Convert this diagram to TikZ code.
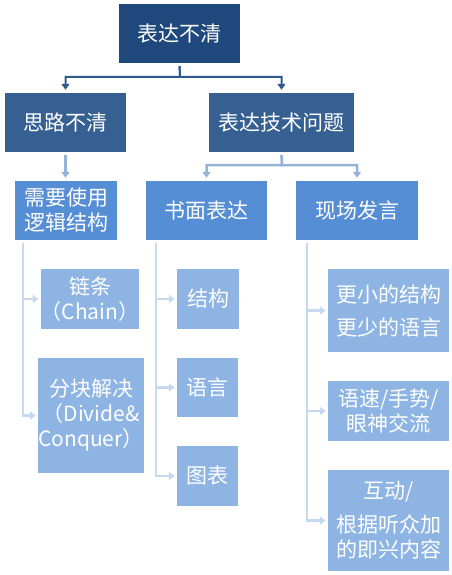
\documentclass[tikz,border=0pt]{standalone}
\usepackage{fontspec}
\setmainfont{Noto Sans CJK SC}
\usepackage{xcolor}
\usetikzlibrary{arrows.meta}

\definecolor{navy}{HTML}{1F497D}
\definecolor{steel}{HTML}{376092}
\definecolor{midblue}{HTML}{558ED5}
\definecolor{lightblue}{HTML}{8EB4E3}
\definecolor{linkdark}{HTML}{2F5A8E}
\definecolor{linkmid}{HTML}{95B3D7}
\definecolor{linklight}{HTML}{C6D9F1}

\begin{document}
\begin{tikzpicture}[x=1pt,y=-1pt,
    box/.style={rectangle,text=white,inner sep=0pt,align=center,
        font=\fontsize{21pt}{25pt}\selectfont},
    lvlone/.style={box,fill=navy},
    lvltwo/.style={box,fill=steel},
    lvlthree/.style={box,fill=midblue},
    lvlfour/.style={box,fill=lightblue},
    linkone/.style={draw=linkdark,line width=2pt,-{Triangle[width=8pt,length=6pt]},shorten <=3pt,shorten >=3pt},
    linktwo/.style={draw=linkmid,line width=2.5pt,-{Triangle[width=8pt,length=6pt]},shorten <=3pt,shorten >=3pt},
    linkbar/.style={draw=linklight,line width=2.5pt,-{Triangle[width=8pt,length=6pt]},shorten >=2pt}]

       \useasboundingbox (0,0) rectangle (451,575);

       % top and second level
       \node[lvlone,minimum width=121pt,minimum height=59pt] (top) at (179.5,33.5) {表达不清};
       \node[lvltwo,minimum width=121pt,minimum height=59pt] (sl) at (65.5,122.5) {思路不清};
       \node[lvltwo,minimum width=145pt,minimum height=59pt] (js) at (281.5,122.5) {表达技术问题};

       % third level
       \node[lvlthree,minimum width=102pt,minimum height=59pt] (lj) at (66,210.5) {需要使用\\逻辑结构};
       \node[lvlthree,minimum width=121pt,minimum height=59pt] (sm) at (206.5,210.5) {书面表达};
       \node[lvlthree,minimum width=122pt,minimum height=59pt] (xc) at (357,210.5) {现场发言};

       % fourth level
       \node[lvlfour,minimum width=98pt,minimum height=60pt] (chain) at (90,299) {链条\\（Chain）};
       \node[lvlfour,minimum width=100pt,minimum height=115pt] (fk) at (91,415.5) {分块解决\\（Divide\&\\Conquer）};

       \node[lvlfour,minimum width=62pt,minimum height=60pt] (jg) at (208,299) {结构};
       \node[lvlfour,minimum width=61pt,minimum height=59pt] (yy) at (207.5,387.5) {语言};
       \node[lvlfour,minimum width=61pt,minimum height=60pt] (tb) at (207.5,476) {图表};

       \node[lvlfour,minimum width=121pt,minimum height=83pt] (gx) at (388.5,310.5) {更小的结构\\[8pt]更少的语言};
       \node[lvlfour,minimum width=121pt,minimum height=60pt] (ys) at (388.5,411) {语速/手势/\\眼神交流};
       \node[lvlfour,minimum width=121pt,minimum height=101pt] (hd) at (388.5,520.5) {互动/\\[9pt]根据听众加\\的即兴内容};

       % connectors
       \coordinate (topfork) at (180,77);
       \coordinate (jsfork) at (282,165);
       \draw[linkone] (top.south) -- (topfork) -| (sl.north);
       \draw[linkone] (top.south) -- (topfork) -| (js.north);
       \draw[linktwo] (sl.south) -- (sl.south |- lj.north);
       \draw[linktwo] (js.south) -- (jsfork) -| (sm.north);
       \draw[linktwo] (js.south) -- (jsfork) -| (xc.north);

       \coordinate (barl) at (23,243);
       \coordinate (barm) at (156,243);
       \coordinate (barr) at (307,243);
       \draw[linkbar] (barl) |- (chain.west);
       \draw[linkbar] (barl) |- (fk.west);
       \draw[linkbar] (barm) |- (jg.west);
       \draw[linkbar] (barm) |- (yy.west);
       \draw[linkbar] (barm) |- (tb.west);
       \draw[linkbar] (barr) |- (gx.west);
       \draw[linkbar] (barr) |- (ys.west);
       \draw[linkbar] (barr) |- (hd.west);

    \end{tikzpicture}
\end{document}
